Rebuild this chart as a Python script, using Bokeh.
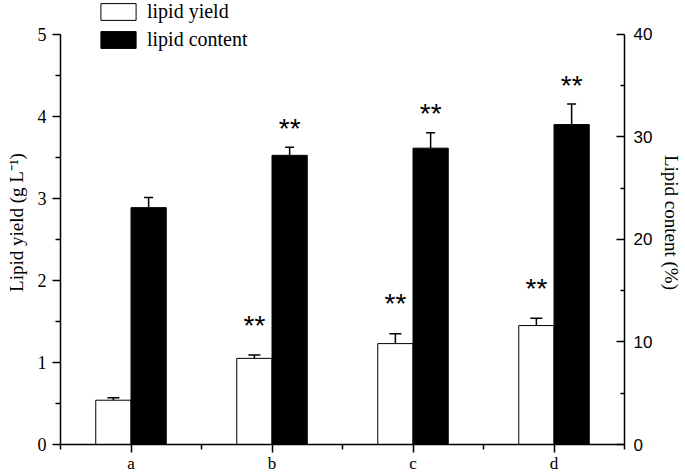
import numpy as np
from bokeh.plotting import figure
from bokeh.models import (Range1d, LinearAxis, FixedTicker, Whisker, TeeHead,
                          ColumnDataSource, Legend, LegendItem)
from bokeh.core.properties import value
from bokeh.embed import file_html
from bokeh.resources import INLINE

# ---- data ----
categories = ["a", "b", "c", "d"]
lipid_yield = [0.54, 1.05, 1.23, 1.45]          # g L-1 (left axis)
lipid_yield_err = [0.03, 0.04, 0.12, 0.09]
lipid_content = [23.1, 28.2, 28.9, 31.2]        # % (right axis)
lipid_content_err = [1.0, 0.8, 1.5, 2.0]
yield_sig = ["", "**", "**", "**"]
content_sig = ["", "**", "**", "**"]
left_ticks = [0, 1, 2, 3, 4, 5]
right_ticks = [0, 10, 20, 30, 40]

SERIF = "Liberation Serif"
SANS = "Liberation Sans"

W, H = 685, 475
FRAME_L, FRAME_R, FRAME_T, FRAME_B = 60, 624, 0, 446
AXIS_TOP = 34  # pixel where the top tick (5 / 40) sits
pad = (FRAME_B - FRAME_T) / (FRAME_B - AXIS_TOP)

xs = np.arange(1, len(categories) + 1, dtype=float)
bw = 0.25
x_white = xs - bw / 2
x_black = xs + bw / 2

y_arr = np.array(lipid_yield)
ye_arr = np.array(lipid_yield_err)
c_arr = np.array(lipid_content)
ce_arr = np.array(lipid_content_err)

src_y = ColumnDataSource(dict(x=x_white, top=y_arr, lo=y_arr - ye_arr, hi=y_arr + ye_arr, sig=yield_sig))
src_c = ColumnDataSource(dict(x=x_black, top=c_arr, lo=c_arr, hi=c_arr + ce_arr, sig=content_sig))

p = figure(width=W, height=H, x_range=Range1d(0.5, len(categories) + 0.5),
           y_range=Range1d(0, left_ticks[-1] * pad),
           output_backend="svg", toolbar_location=None,
           min_border_left=FRAME_L, min_border_right=W - FRAME_R,
           min_border_top=FRAME_T, min_border_bottom=H - FRAME_B)
p.extra_y_ranges = {"right": Range1d(0, right_ticks[-1] * pad)}
p.outline_line_color = None
p.xgrid.visible = False
p.ygrid.visible = False
p.background_fill_color = "white"
p.border_fill_color = "white"

# x axis
xa = p.xaxis[0]
xa.ticker = FixedTicker(ticks=list(xs), minor_ticks=list(np.arange(0.5, len(categories) + 1, 1.0)))
xa.major_label_overrides = {int(x): c for x, c in zip(xs, categories)}
xa.major_tick_out = 8
xa.major_tick_in = 0
xa.minor_tick_out = 5
xa.minor_tick_in = 0
xa.axis_line_width = 1.5
xa.major_tick_line_width = 1.5
xa.minor_tick_line_width = 1.5
xa.major_label_text_font = SERIF
xa.major_label_text_font_size = "17px"
xa.major_label_text_color = "black"
xa.major_label_standoff = 1

# left axis
ya = p.yaxis[0]
ya.bounds = (left_ticks[0], left_ticks[-1])
ya.ticker = FixedTicker(ticks=left_ticks, minor_ticks=list(np.arange(0.5, 5, 1.0)))
ya.major_tick_out = 8
ya.major_tick_in = 0
ya.minor_tick_out = 5
ya.minor_tick_in = 0
ya.axis_line_width = 1.5
ya.major_tick_line_width = 1.5
ya.minor_tick_line_width = 1.5
ya.major_label_text_font = SERIF
ya.major_label_text_font_size = "18px"
ya.major_label_text_color = "black"
ya.major_label_standoff = 6
ya.axis_label = "Lipid yield (g L\u207B\u00B9)"
ya.axis_label_text_font = SERIF
ya.axis_label_text_font_size = "19px"
ya.axis_label_text_font_style = "normal"
ya.axis_label_text_color = "black"
ya.axis_label_standoff = 8

# right axis
ra = LinearAxis(y_range_name="right", bounds=(right_ticks[0], right_ticks[-1]),
                ticker=FixedTicker(ticks=right_ticks, minor_ticks=[5, 15, 25, 35]))
ra.major_tick_in = 8
ra.major_tick_out = 0
ra.minor_tick_in = 4
ra.minor_tick_out = 0
ra.axis_line_width = 1.5
ra.major_tick_line_width = 1.5
ra.minor_tick_line_width = 1.5
ra.major_label_text_font = SANS
ra.major_label_text_font_size = "17px"
ra.major_label_text_color = "black"
ra.major_label_standoff = 9
ra.axis_label = "Lipid content (%)"
ra.axis_label_text_font = SERIF
ra.axis_label_text_font_size = "19px"
ra.axis_label_text_font_style = "normal"
ra.axis_label_text_color = "black"
ra.axis_label_standoff = 6
p.add_layout(ra, "right")

# bars
r_white = p.vbar(x="x", top="top", width=bw, source=src_y, fill_color="white",
                 line_color="black", line_width=1)
r_black = p.vbar(x="x", top="top", width=bw, source=src_c, fill_color="black",
                 line_color="black", line_width=1, y_range_name="right")

# error bars
w1 = Whisker(source=src_y, base="x", lower="lo", upper="hi", line_width=1.5,
             upper_head=TeeHead(size=12, line_width=1.5),
             lower_head=TeeHead(size=12, line_width=1.5))
w2 = Whisker(source=src_c, base="x", lower="lo", upper="hi", line_width=1.5,
             y_range_name="right", lower_head=None,
             upper_head=TeeHead(size=9, line_width=1.5))
p.add_layout(w1)
p.add_layout(w2)

# significance marks
p.text(x="x", y="hi", text="sig", source=src_y, text_font=value(SANS),
       text_font_size="28px", text_align="center", text_baseline="middle",
       y_offset=-30, text_color="black")
p.text(x="x", y="hi", text="sig", source=src_c, text_font=value(SANS),
       text_font_size="28px", text_align="center", text_baseline="middle",
       y_offset=-19, text_color="black", y_range_name="right")

legend = Legend(items=[LegendItem(label="lipid yield", renderers=[r_white]),
                       LegendItem(label="lipid content", renderers=[r_black])],
                location=(36, 393))
legend.padding = 0
legend.margin = 0
legend.spacing = 5
legend.glyph_width = 44
legend.glyph_height = 21
legend.label_height = 21
legend.label_standoff = 7
legend.border_line_color = None
legend.background_fill_alpha = 0
legend.label_text_font = SERIF
legend.label_text_font_size = "20px"
legend.label_text_color = "black"
p.add_layout(legend, "center")

open("out.html", "w").write(file_html(p, INLINE))
